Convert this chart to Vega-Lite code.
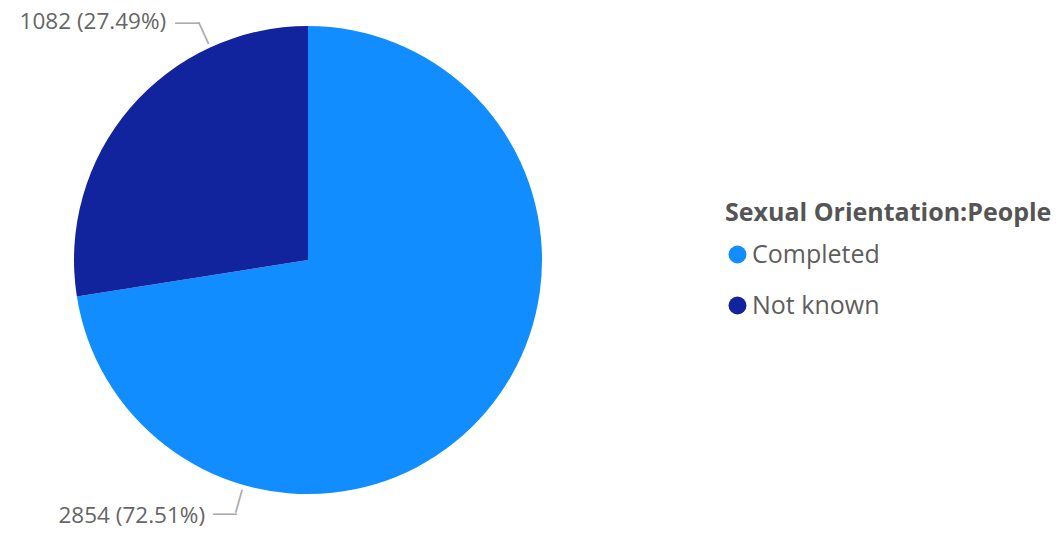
{
  "$schema": "https://vega.github.io/schema/vega-lite/v6.json",
  "width": 616,
  "height": 520,
  "padding": {"left": 0, "top": 0, "right": 440, "bottom": 14},
  "autosize": {"type": "none"},
  "background": "white",
  "config": {"view": {"stroke": null}, "font": "Open Sans"},
  "data": {"values": [
    {"cat": "Completed", "people": 2854, "label": "2854 (72.51%)"},
    {"cat": "Not known", "people": 1082, "label": "1082 (27.49%)"}
  ]},
  "encoding": {
    "theta": {"field": "people", "type": "quantitative", "stack": true},
    "order": {"field": "people", "type": "quantitative", "sort": "descending"}
  },
  "layer": [
    {
      "mark": {"type": "arc", "outerRadius": 234},
      "encoding": {
        "color": {
          "field": "cat", "type": "nominal",
          "scale": {"domain": ["Completed", "Not known"], "range": ["#118DFF", "#12239E"]},
          "legend": {
            "title": "Sexual Orientation:People",
            "orient": "none", "legendX": 725, "legendY": 201,
            "titleFontSize": 25, "titleFontWeight": "bold", "titleColor": "#555555", "titleFont": "Open Sans",
            "titlePadding": 16, "titleLimit": 500, "labelLimit": 400,
            "labelFontSize": 25, "labelColor": "#605E5C", "labelFont": "Open Sans",
            "symbolType": "circle", "symbolSize": 324, "symbolStrokeWidth": 0,
            "labelOffset": 2, "rowPadding": 25
          }
        }
      }
    },
    {
      "mark": {"type": "text", "radius": 277, "thetaOffset": 0.326, "align": "right", "baseline": "middle", "fontSize": 22.5, "color": "#666666"},
      "encoding": {"text": {"condition": {"test": "datum.cat == 'Not known'", "field": "label"}, "value": ""}}
    },
    {
      "mark": {"type": "text", "radius": 276, "thetaOffset": 1.246, "align": "right", "baseline": "middle", "fontSize": 22.5, "color": "#666666"},
      "encoding": {"text": {"condition": {"test": "datum.cat == 'Completed'", "field": "label"}, "value": ""}}
    },
    {
      "mark": {"type": "text", "radius": 267, "thetaOffset": 0.3933, "align": "center", "baseline": "middle", "fontSize": 24, "font": "Liberation Sans", "color": "#AAAAAA"},
      "encoding": {"text": {"condition": {"test": "datum.cat == 'Not known'", "value": "—"}, "value": ""}}
    },
    {
      "mark": {"type": "text", "radius": 266, "thetaOffset": 1.1806, "align": "center", "baseline": "middle", "fontSize": 24, "font": "Liberation Sans", "color": "#AAAAAA"},
      "encoding": {"text": {"condition": {"test": "datum.cat == 'Completed'", "value": "—"}, "value": ""}}
    },
    {
      "mark": {"type": "text", "radius": 250, "thetaOffset": 0.4360, "angle": 65.5, "align": "center", "baseline": "middle", "fontSize": 24, "font": "Liberation Sans", "color": "#AAAAAA"},
      "encoding": {"text": {"condition": {"test": "datum.cat == 'Not known'", "value": "—"}, "value": ""}}
    },
    {
      "mark": {"type": "text", "radius": 251, "thetaOffset": 1.1394, "angle": 105.8, "align": "center", "baseline": "middle", "fontSize": 24, "font": "Liberation Sans", "color": "#AAAAAA"},
      "encoding": {"text": {"condition": {"test": "datum.cat == 'Completed'", "value": "—"}, "value": ""}}
    }
  ]
}
